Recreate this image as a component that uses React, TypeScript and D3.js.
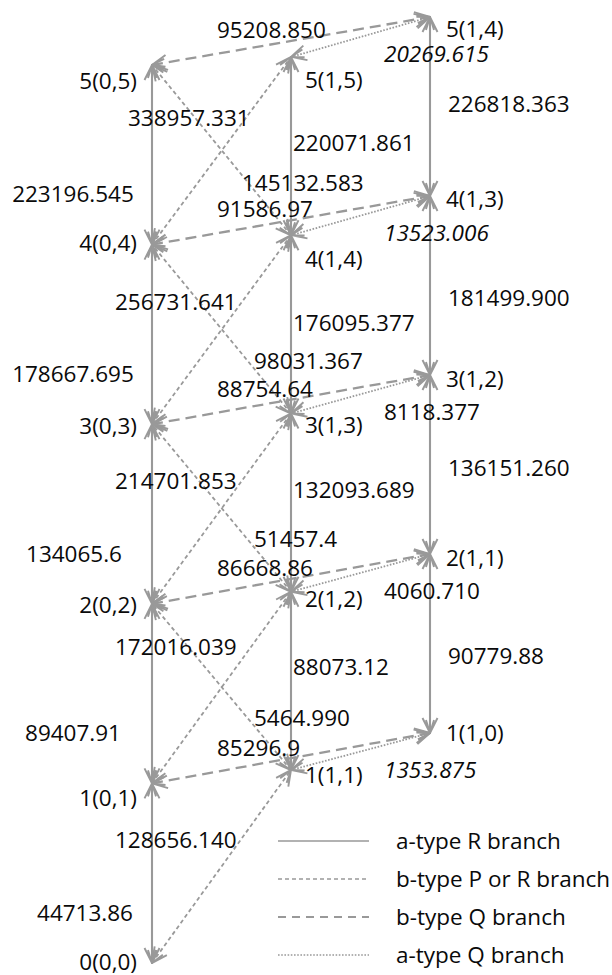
import React from "react";
import * as d3 from "d3";

// Rotational levels J(Ka,Kc), one stack per column
const stackKa0 = ["0(0,0)", "1(0,1)", "2(0,2)", "3(0,3)", "4(0,4)", "5(0,5)"]; // J = 0..5
const stackKa1Upper = ["1(1,1)", "2(1,2)", "3(1,3)", "4(1,4)", "5(1,5)"]; // J = 1..5
const stackKa1Lower = ["1(1,0)", "2(1,1)", "3(1,2)", "4(1,3)", "5(1,4)"]; // J = 1..5

// Transition frequencies (MHz)
const aRKa0 = ["44713.86", "89407.91", "134065.6", "178667.695", "223196.545"]; // J(0,J) - J+1(0,J+1)
const aRKa1Upper = ["88073.12", "132093.689", "176095.377", "220071.861"]; // J(1,J) - J+1(1,J+1)
const aRKa1Lower = ["90779.88", "136151.260", "181499.900", "226818.363"]; // J(1,J-1) - J+1(1,J)
const bRBranch = ["128656.140", "172016.039", "214701.853", "256731.641", "338957.331"]; // J(0,J) - J+1(1,J+1)
const bPBranch = ["5464.990", "51457.4", "98031.367", "145132.583"]; // J(1,J) - J+1(0,J+1)
const bQBranch = ["85296.9", "86668.86", "88754.64", "91586.97", "95208.850"]; // J(0,J) - J(1,J-1)
const aQBranch = ["1353.875", "4060.710", "8118.377", "13523.006", "20269.615"]; // J(1,J) - J(1,J-1)

const legendLabels = ["a-type R branch", "b-type P or R branch", "b-type Q branch", "a-type Q branch"];

// ---- layout ----
const W = 612;
const H = 975;
const FONT = "'Open Sans', 'Noto Sans', sans-serif";
const FS = 22.5;
const GRAY = "#999999";
const INK = "#0a0a0a";

const x = d3.scalePoint<string>().domain(["ka0", "ka1u", "ka1l"]).range([152, 430]);
const yKa0 = d3.scaleLinear().domain([0, 5]).range([963, 65]);
const yKa1u = d3.scaleLinear().domain([1, 5]).range([770, 57]);
const yKa1l = d3.scaleLinear().domain([1, 5]).range([733, 17]);

// small label nudges
const levelDyKa0 = [-2, 14, 1, 1, -2, 15];
const levelDyKa1u = [4, 7, 11, 23, 22];
const levelDyKa1l = [-1, 3, 3, 2, 11];
const aRKa0Dx = [12, 0, 1, 0, 0];
const aRKa1uDy = [-14, -13, -2, -4];
const aRKa1lDy = [11.5, 2.5, 11.5, -3.5];
const bRDy = [56, 43, 56, 57, 52];
const bRDx = [0, 0, 0, 0, 13];
const bPDx = [0, 0, 0, -12];
const aQItalic = new Set([0, 3, 4]);

type Style = { dash: string; width: number };
const styles: Record<string, Style> = {
  aR: { dash: "none", width: 2.1 },
  bPR: { dash: "4 3", width: 1.8 },
  bQ: { dash: "11 6", width: 2.3 },
  aQ: { dash: "1.6 1.6", width: 1.8 },
};

type Seg = { x1: number; y1: number; x2: number; y2: number; kind: string };

export default function App() {
  const xa = x("ka0")!;
  const xb = x("ka1u")!;
  const xc = x("ka1l")!;

  const segs: Seg[] = [];
  aRKa0.forEach((_, j) =>
    segs.push({ x1: xa, y1: yKa0(j), x2: xa, y2: yKa0(j + 1), kind: "aR" })
  );
  aRKa1Upper.forEach((_, i) =>
    segs.push({ x1: xb, y1: yKa1u(i + 1), x2: xb, y2: yKa1u(i + 2), kind: "aR" })
  );
  aRKa1Lower.forEach((_, i) =>
    segs.push({ x1: xc, y1: yKa1l(i + 1), x2: xc, y2: yKa1l(i + 2), kind: "aR" })
  );
  bRBranch.forEach((_, j) =>
    segs.push({ x1: xa, y1: yKa0(j), x2: xb, y2: yKa1u(j + 1), kind: "bPR" })
  );
  bPBranch.forEach((_, i) =>
    segs.push({ x1: xb, y1: yKa1u(i + 1), x2: xa, y2: yKa0(i + 2), kind: "bPR" })
  );
  bQBranch.forEach((_, i) =>
    segs.push({ x1: xa, y1: yKa0(i + 1), x2: xc, y2: yKa1l(i + 1), kind: "bQ" })
  );
  aQBranch.forEach((_, i) =>
    segs.push({ x1: xb, y1: yKa1u(i + 1), x2: xc, y2: yKa1l(i + 1), kind: "aQ" })
  );

  type Lbl = { text: string; x: number; y: number; anchor?: string; italic?: boolean };
  const labels: Lbl[] = [];

  stackKa0.forEach((t, j) => labels.push({ text: t, x: xa - 15, y: yKa0(j) + levelDyKa0[j], anchor: "end" }));
  stackKa1Upper.forEach((t, i) => labels.push({ text: t, x: xb + 14, y: yKa1u(i + 1) + levelDyKa1u[i] }));
  stackKa1Lower.forEach((t, i) => labels.push({ text: t, x: xc + 16, y: yKa1l(i + 1) + levelDyKa1l[i] }));

  aRKa0.forEach((t, j) =>
    labels.push({ text: t, x: xa - 79 + aRKa0Dx[j], y: (yKa0(j) + yKa0(j + 1)) / 2 + 39, anchor: "middle" })
  );
  aRKa1Upper.forEach((t, i) =>
    labels.push({ text: t, x: xb + 2, y: (yKa1u(i + 1) + yKa1u(i + 2)) / 2 + aRKa1uDy[i] })
  );
  aRKa1Lower.forEach((t, i) =>
    labels.push({ text: t, x: xc + 18, y: (yKa1l(i + 1) + yKa1l(i + 2)) / 2 + aRKa1lDy[i] })
  );
  bRBranch.forEach((t, j) => labels.push({ text: t, x: xa - 37 + bRDx[j], y: yKa0(j + 1) + bRDy[j] }));
  bPBranch.forEach((t, i) => labels.push({ text: t, x: xb - 37 + bPDx[i], y: yKa1u(i + 1) - 53 }));
  bQBranch.forEach((t, i) => labels.push({ text: t, x: xa + 65, y: yKa0(i + 1) - 36 }));
  aQBranch.forEach((t, i) =>
    labels.push({ text: t, x: xc - 46, y: yKa1l(i + 1) + 36, italic: aQItalic.has(i) })
  );

  const legendKinds = ["aR", "bPR", "bQ", "aQ"];
  const legendY = d3.scaleLinear().domain([0, 3]).range([841, 955]);

  return (
    <svg
      width={W}
      height={H}
      viewBox={`0 0 ${W} ${H}`}
      style={{ position: "absolute", left: 0, top: 0, background: "#fff" }}
      fontFamily={FONT}
    >
      <defs>
        <marker
          id="vee"
          viewBox="0 0 17 18"
          refX={16}
          refY={9}
          markerWidth={17}
          markerHeight={18}
          markerUnits="userSpaceOnUse"
          orient="auto-start-reverse"
        >
          <path
            d="M1,1.5 L16,9 L1,16.5 M3,5 L16,9 L3,13"
            fill="none"
            stroke={GRAY}
            strokeWidth={1.9}
            strokeDasharray="none"
          />
        </marker>
      </defs>

      {segs.map((s, i) => (
        <line
          key={i}
          x1={s.x1}
          y1={s.y1}
          x2={s.x2}
          y2={s.y2}
          stroke={GRAY}
          strokeWidth={styles[s.kind].width}
          strokeDasharray={styles[s.kind].dash}
          markerStart="url(#vee)"
          markerEnd="url(#vee)"
        />
      ))}

      {labels.map((l, i) => (
        <text
          key={i}
          x={l.x}
          y={l.y}
          fontSize={FS}
          fill={INK}
          textAnchor={l.anchor ?? "start"}
          dominantBaseline="central"
          fontStyle={l.italic ? "italic" : "normal"}
        >
          {l.text}
        </text>
      ))}

      {legendLabels.map((t, i) => (
        <g key={t}>
          <line
            x1={278}
            x2={369}
            y1={legendY(i)}
            y2={legendY(i)}
            stroke={GRAY}
            strokeWidth={i === 0 ? 1.6 : styles[legendKinds[i]].width * 0.8}
            strokeDasharray={i === 2 ? "8 6" : styles[legendKinds[i]].dash}
          />
          <text x={396} y={legendY(i) - 1} fontSize={FS} fill={INK} dominantBaseline="central">
            {t}
          </text>
        </g>
      ))}
    </svg>
  );
}
